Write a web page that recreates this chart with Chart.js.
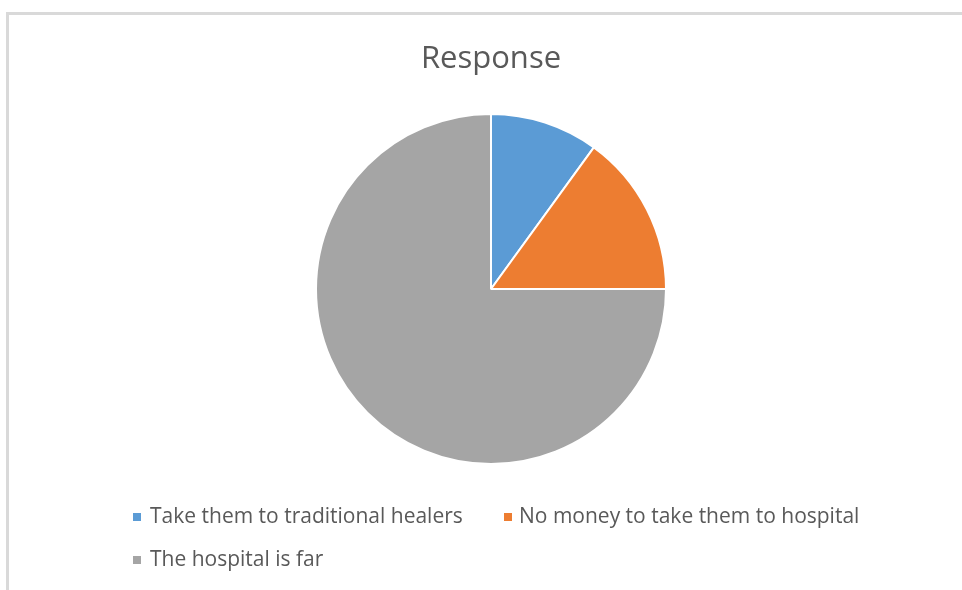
<!DOCTYPE html>
<html>
<head>
<meta charset="utf-8">
<script src="https://cdn.jsdelivr.net/npm/chart.js@4/dist/chart.umd.min.js"></script>
<style>
html,body{margin:0;padding:0;background:#fff;}
#wrap{position:absolute;left:0;top:0;width:962px;height:590px;}
</style>
</head>
<body>
<div id="wrap"><canvas id="c" width="962" height="590"></canvas></div>
<script>
const title = "Response";
const categories = ["Take them to traditional healers", "No money to take them to hospital", "The hospital is far"];
const values = [10, 15, 75];
const colors = ["#5B9BD5", "#ED7D31", "#A5A5A5"];

const FONT = '"Open Sans", Lato, sans-serif';
const TEXT = '#595959';

const decor = {
  id: 'decor',
  beforeDraw(chart) {
    const ctx = chart.ctx;
    ctx.save();
    ctx.strokeStyle = '#d9d9d9';
    ctx.lineWidth = 3;
    ctx.beginPath();
    ctx.moveTo(7.5, 600);
    ctx.lineTo(7.5, 13.5);
    ctx.lineTo(970, 13.5);
    ctx.stroke();
    ctx.restore();
  },
  afterDraw(chart) {
    const ctx = chart.ctx;
    ctx.save();
    ctx.fillStyle = TEXT;
    ctx.textBaseline = 'middle';
    ctx.textAlign = 'center';
    ctx.font = '31px ' + FONT;
    ctx.fillText(title, 491, 59);
    // legend
    ctx.textAlign = 'left';
    ctx.font = '21px ' + FONT;
    const pos = [[133, 517, 17], [504, 517, 15], [133, 560, 17]];
    categories.forEach((lab, i) => {
      const [x, y, gap] = pos[i];
      ctx.fillStyle = colors[i];
      ctx.fillRect(x, y - 4, 8, 8);
      ctx.fillStyle = TEXT;
      ctx.fillText(lab, x + gap, y);
    });
    ctx.restore();
  }
};

new Chart(document.getElementById('c'), {
  type: 'pie',
  data: {
    labels: categories,
    datasets: [{
      data: values,
      backgroundColor: colors,
      borderColor: '#ffffff',
      borderWidth: 2
    }]
  },
  options: {
    responsive: false,
    animation: false,
    layout: { padding: { top: 113, bottom: 125, left: 315, right: 295 } },
    plugins: {
      legend: { display: false },
      title: { display: false },
      tooltip: { enabled: false }
    }
  },
  plugins: [decor]
});
</script>
</body>
</html>
